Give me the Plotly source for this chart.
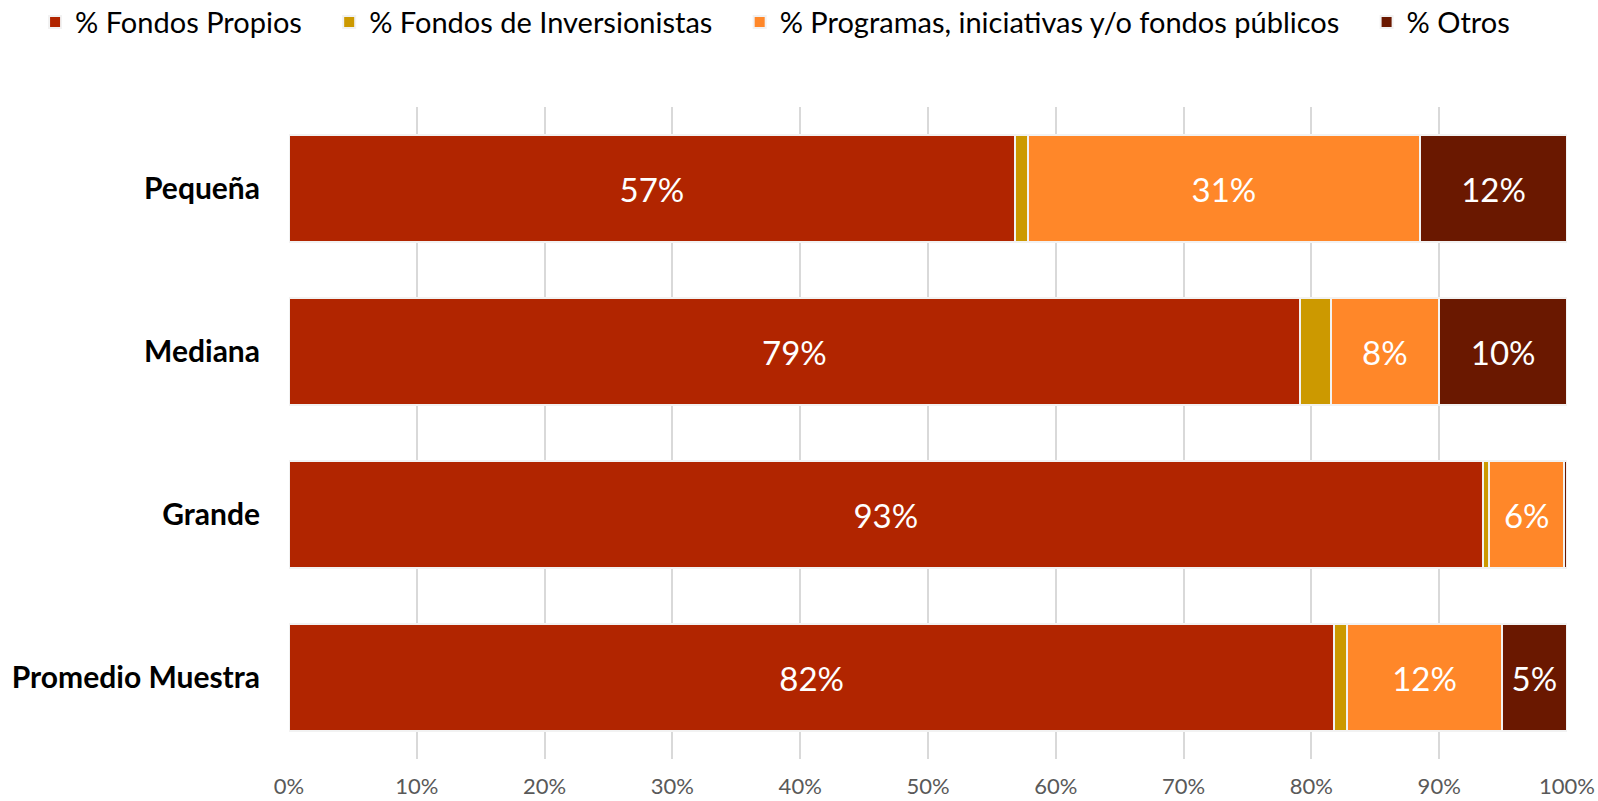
import plotly.graph_objects as go

categories = ["Pequeña", "Mediana", "Grande", "Promedio Muestra"]
series_names = ["% Fondos Propios", "% Fondos de Inversionistas",
                "% Programas, iniciativas y/o fondos públicos", "% Otros"]
fondos_propios = [56.8, 79.1, 93.4, 81.8]
fondos_inversionistas = [1.0, 2.4, 0.5, 1.0]
programas_publicos = [30.7, 8.5, 5.9, 12.1]
otros = [11.5, 10.0, 0.2, 5.1]
label_propios = ["57%", "79%", "93%", "82%"]
label_inversionistas = ["", "", "", ""]
label_programas = ["31%", "8%", "6%", "12%"]
label_otros = ["12%", "10%", "", "5%"]
x_ticks = [0, 10, 20, 30, 40, 50, 60, 70, 80, 90, 100]
x_tick_labels = [f"{v}%" for v in x_ticks]

colors = ["#B12500", "#CC9900", "#FF8729", "#6A1800"]
values = [fondos_propios, fondos_inversionistas, programas_publicos, otros]
labels = [label_propios, label_inversionistas, label_programas, label_otros]

FONT = "Lato"
PAD = "\u00a0\u00a0\u00a0"
fig = go.Figure()
for i, (name, vals, txt, col) in enumerate(zip(series_names, values, labels, colors)):
    fig.add_trace(go.Bar(
        y=categories, x=vals, name=name + (PAD if i < 3 else ""), orientation="h",
        marker=dict(color=col, line=dict(color="#F2F2F2", width=2)),
        text=txt, textposition="inside", insidetextanchor="middle",
        textfont=dict(color="white", size=33, family=FONT),
        constraintext="none", hoverinfo="skip",
    ))

fig.update_layout(
    barmode="stack",
    bargap=0.34,
    width=1598, height=801,
    margin=dict(l=289, r=31, t=107, b=42, autoexpand=False),
    paper_bgcolor="white", plot_bgcolor="white",
    font=dict(family=FONT, color="black"),
    legend=dict(orientation="h", xref="paper", yref="paper",
                x=-0.1987, xanchor="left", y=1.13, yanchor="middle",
                traceorder="normal",
                font=dict(size=29, family=FONT, color="black"),
                itemwidth=30, tracegroupgap=0),
    showlegend=True,
)
fig.update_xaxes(range=[0, 100], tickvals=x_ticks, ticktext=x_tick_labels,
                 showgrid=True, gridcolor="#D9D9D9", gridwidth=2,
                 zeroline=False, showline=False, ticks="", automargin=False,
                 tickfont=dict(size=22, color="#595959", family=FONT),
                 ticklabelstandoff=12)
fig.update_yaxes(autorange="reversed", showgrid=False, ticks="", automargin=False,
                 tickfont=dict(size=30, color="black", family=FONT, weight="bold"),
                 ticklabelstandoff=28)

fig.write_html("out.html", config={"displayModeBar": False},
               post_script="document.body.style.margin='0';document.body.style.overflow='hidden';")
